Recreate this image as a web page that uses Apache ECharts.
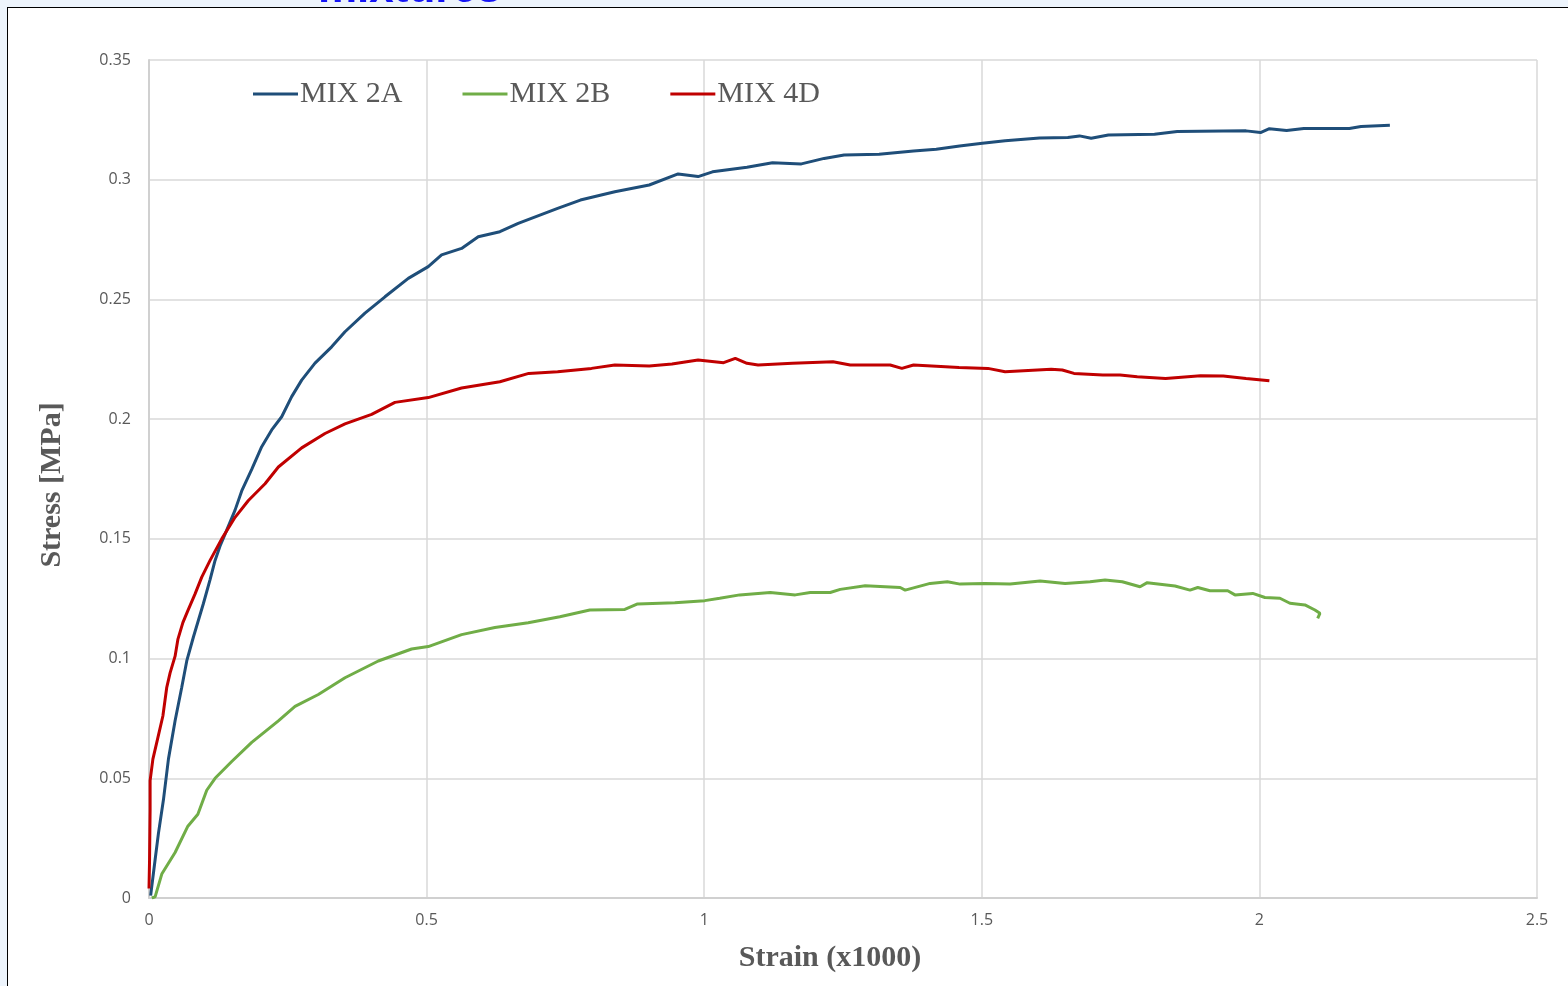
<!DOCTYPE html>
<html>
<head>
<meta charset="utf-8">
<script src="https://cdn.jsdelivr.net/npm/echarts@6/dist/echarts.min.js"></script>
<style>
  html, body { margin: 0; padding: 0; width: 1568px; height: 986px; overflow: hidden; background: #EDF4FC; }
  #frame { position: absolute; left: 7px; top: 7px; width: 1600px; height: 1000px; background: #ffffff; border-top: 1.5px solid #000; border-left: 1.5px solid #000; }
  #chart { position: absolute; left: 0; top: 0; width: 1568px; height: 986px; }
</style>
</head>
<body>
<div id="frame"></div>
<div id="chart"></div>
<script>
const seriesNames = ['MIX 2A', 'MIX 2B', 'MIX 4D'];
const xTickLabels = ['0', '0.5', '1', '1.5', '2', '2.5'];
const yTickLabels = ['0', '0.05', '0.1', '0.15', '0.2', '0.25', '0.3', '0.35'];

const mix2A_strain = [0.003,0.004,0.011,0.017,0.026,0.035,0.047,0.059,0.068,0.080,0.089,0.098,0.110,0.119,0.128,0.137,0.155,0.167,0.185,0.203,0.221,0.239,0.257,0.275,0.299,0.329,0.353,0.389,0.425,0.467,0.503,0.527,0.563,0.593,0.632,0.665,0.736,0.777,0.839,0.901,0.953,0.989,1.015,1.077,1.123,1.175,1.216,1.252,1.315,1.377,1.418,1.460,1.501,1.542,1.604,1.655,1.676,1.697,1.728,1.811,1.852,1.976,2.002,2.018,2.049,2.080,2.162,2.183,2.235];
const mix2A_stress = [0.001,0.003,0.016,0.027,0.041,0.058,0.074,0.088,0.099,0.109,0.116,0.123,0.133,0.141,0.147,0.152,0.162,0.170,0.179,0.1885,0.1955,0.201,0.2094,0.2163,0.2234,0.2302,0.2365,0.2443,0.2511,0.2588,0.2637,0.2686,0.2713,0.2762,0.2783,0.2818,0.288,0.2915,0.295,0.2978,0.3024,0.3013,0.3033,0.3052,0.3071,0.3066,0.3089,0.3103,0.3106,0.312,0.3127,0.3141,0.3152,0.3163,0.3174,0.3176,0.3183,0.3173,0.3187,0.319,0.3201,0.3204,0.3197,0.3213,0.3206,0.3214,0.3214,0.3222,0.3227];

const mix2B_strain = [0.005,0.011,0.023,0.047,0.070,0.088,0.104,0.119,0.149,0.185,0.233,0.263,0.305,0.353,0.413,0.473,0.503,0.563,0.623,0.683,0.740,0.794,0.857,0.880,0.947,1.001,1.028,1.064,1.119,1.164,1.191,1.227,1.245,1.290,1.326,1.353,1.362,1.407,1.438,1.461,1.506,1.551,1.605,1.650,1.695,1.722,1.753,1.785,1.798,1.848,1.875,1.889,1.911,1.943,1.956,1.988,2.010,2.037,2.055,2.082,2.100,2.109,2.105];
const mix2B_stress = [0.000,0.0005,0.010,0.019,0.030,0.035,0.045,0.050,0.057,0.065,0.074,0.080,0.085,0.092,0.099,0.104,0.105,0.110,0.113,0.115,0.1175,0.1203,0.1205,0.1228,0.1233,0.1242,0.1252,0.1266,0.1276,0.1266,0.1276,0.1276,0.1289,0.1304,0.13,0.1297,0.1286,0.1314,0.1321,0.1311,0.1314,0.1311,0.1324,0.1314,0.1321,0.1328,0.1321,0.13,0.1317,0.1303,0.1286,0.1297,0.1283,0.1283,0.1266,0.1272,0.1255,0.1252,0.1231,0.1224,0.1203,0.1189,0.1168];

const mix4D_strain = [0.000,0.001,0.002,0.002,0.007,0.016,0.025,0.032,0.038,0.047,0.052,0.061,0.070,0.083,0.095,0.110,0.131,0.155,0.179,0.209,0.233,0.275,0.317,0.353,0.401,0.443,0.503,0.563,0.632,0.684,0.736,0.797,0.839,0.901,0.942,0.989,1.035,1.056,1.077,1.097,1.159,1.232,1.263,1.335,1.356,1.377,1.459,1.511,1.542,1.625,1.645,1.666,1.718,1.749,1.780,1.831,1.894,1.935,1.976,2.018];
const mix4D_stress = [0.004,0.016,0.037,0.049,0.058,0.067,0.076,0.088,0.094,0.101,0.108,0.115,0.120,0.127,0.134,0.141,0.150,0.159,0.166,0.173,0.180,0.188,0.194,0.198,0.202,0.207,0.209,0.213,0.2156,0.2191,0.2198,0.2212,0.2226,0.2222,0.223,0.2247,0.2236,0.2254,0.2233,0.2226,0.2233,0.224,0.2226,0.2226,0.2212,0.2226,0.2216,0.2212,0.2198,0.2208,0.2205,0.2191,0.2184,0.2184,0.2177,0.217,0.2181,0.218,0.217,0.216];

function pairs(xs, ys) { return xs.map((x, i) => [x, ys[i]]); }

const chart = echarts.init(document.getElementById('chart'), null, { renderer: 'canvas' });
const labelFont = { fontFamily: 'Open Sans', fontSize: 16, color: '#595959' };
const gridLine = { show: true, lineStyle: { color: '#D9D9D9', width: 1.5 } };

chart.setOption({
  backgroundColor: 'transparent',
  animation: false,
  graphic: [{
    type: 'text', left: 318, top: -32, z: 100,
    style: { text: 'mixtures', font: 'bold 44px "Liberation Sans"', fill: '#1414F5' }
  }],
  legend: {
    data: seriesNames,
    left: 248, top: 74,
    icon: 'rect', itemWidth: 45, itemHeight: 3, itemGap: 60,
    textStyle: { fontFamily: 'Liberation Serif', fontSize: 30, color: '#595959', padding: [0, 0, 0, -3] }
  },
  grid: { left: 149, right: 31, top: 60, bottom: 88, containLabel: false },
  xAxis: {
    type: 'value', min: 0, max: 2.5, interval: 0.5,
    name: 'Strain (x1000)', nameLocation: 'middle', nameGap: 45,
    nameTextStyle: { fontFamily: 'Liberation Serif', fontWeight: 'bold', fontSize: 30, color: '#595959', padding: [0, 26, 0, 0] },
    axisLine: { show: true, lineStyle: { color: '#D0D0D0', width: 2 } },
    axisTick: { show: false },
    splitLine: gridLine,
    axisLabel: Object.assign({ margin: 14, formatter: v => xTickLabels[Math.round(v / 0.5)] }, labelFont)
  },
  yAxis: {
    type: 'value', min: 0, max: 0.35, interval: 0.05,
    name: 'Stress [MPa]', nameLocation: 'middle', nameGap: 82, nameRotate: 90,
    nameTextStyle: { fontFamily: 'Liberation Serif', fontWeight: 'bold', fontSize: 30, color: '#595959', padding: [0, 12, 0, 0] },
    axisLine: { show: true, lineStyle: { color: '#D0D0D0', width: 2 } },
    axisTick: { show: false },
    splitLine: gridLine,
    axisLabel: Object.assign({ margin: 18, formatter: v => yTickLabels[Math.round(v / 0.05)] }, labelFont)
  },
  series: [
    { name: 'MIX 2A', type: 'line', data: pairs(mix2A_strain, mix2A_stress), symbol: 'none', color: '#1F4E79', lineStyle: { width: 3, color: '#1F4E79' } },
    { name: 'MIX 2B', type: 'line', data: pairs(mix2B_strain, mix2B_stress), symbol: 'none', color: '#70AD47', lineStyle: { width: 3, color: '#70AD47' } },
    { name: 'MIX 4D', type: 'line', data: pairs(mix4D_strain, mix4D_stress), symbol: 'none', color: '#C00000', lineStyle: { width: 3, color: '#C00000' } }
  ]
});
</script>
</body>
</html>
